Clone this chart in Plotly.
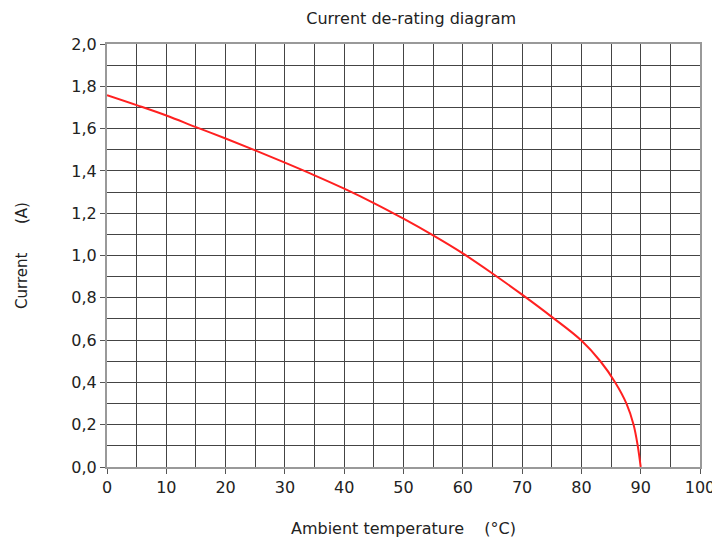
import plotly.graph_objects as go

temperature = [0, 5, 10, 15, 20, 25, 30, 35, 40, 45, 50, 55, 60, 65, 70, 75, 80, 83.2, 85.7, 87.6, 88.8, 89.5, 90]
current = [1.758, 1.711, 1.662, 1.607, 1.553, 1.497, 1.439, 1.379, 1.316, 1.248, 1.174, 1.095, 1.010, 0.915, 0.815, 0.710, 0.598, 0.50, 0.40, 0.30, 0.20, 0.10, 0.0]

x_ticks = list(range(0, 101, 10))
y_ticks = [0.0, 0.2, 0.4, 0.6, 0.8, 1.0, 1.2, 1.4, 1.6, 1.8, 2.0]
y_labels = [f"{v:.1f}".replace(".", ",") for v in y_ticks]

NB = "\u00a0"
FAM = "DejaVu Sans, Liberation Sans, Arial, sans-serif"

fig = go.Figure()
fig.add_trace(go.Scatter(x=temperature, y=current, mode="lines",
                         line=dict(color="#ff2020", width=2, shape="spline", smoothing=1.0),
                         showlegend=False, hoverinfo="skip"))

font = dict(family=FAM, size=16, color="#222")
fig.update_layout(
    width=720, height=542,
    margin=dict(l=99, r=28, t=36, b=83),
    paper_bgcolor="white", plot_bgcolor="white",
    title=dict(text="Current de-rating diagram", x=0.513, xanchor="center", xref="paper",
               y=0.9815, yanchor="middle",
               font=dict(family=FAM, size=16, color="#222")),
    font=font,
)
fig.update_xaxes(range=[0, 100], tickvals=x_ticks, ticktext=[str(v) for v in x_ticks],
                 ticks="outside", ticklen=5, tickcolor="#555",
                 showgrid=True, gridcolor="#444", gridwidth=1,
                 minor=dict(dtick=5, showgrid=True, gridcolor="#444", gridwidth=1),
                 showline=True, linecolor="#999", linewidth=2, mirror=True, zeroline=False,
                 tickfont=dict(family=FAM, size=16, color="#222"),
                 title=dict(text="Ambient temperature" + NB * 4 + "(°C)", standoff=27,
                            font=dict(family=FAM, size=16, color="#222")))
fig.update_yaxes(range=[0, 2.0], tickvals=y_ticks, ticktext=y_labels,
                 ticks="outside", ticklen=5, tickcolor="#555",
                 showgrid=True, gridcolor="#444", gridwidth=1,
                 minor=dict(dtick=0.1, showgrid=True, gridcolor="#444", gridwidth=1),
                 showline=True, linecolor="#999", linewidth=2, mirror=True, zeroline=False,
                 tickfont=dict(family=FAM, size=16, color="#222"),
                 title=dict(text="Current" + NB * 6 + "(A)", standoff=40,
                            font=dict(family=FAM, size=15, color="#222")))

fig.write_html("out.html")
